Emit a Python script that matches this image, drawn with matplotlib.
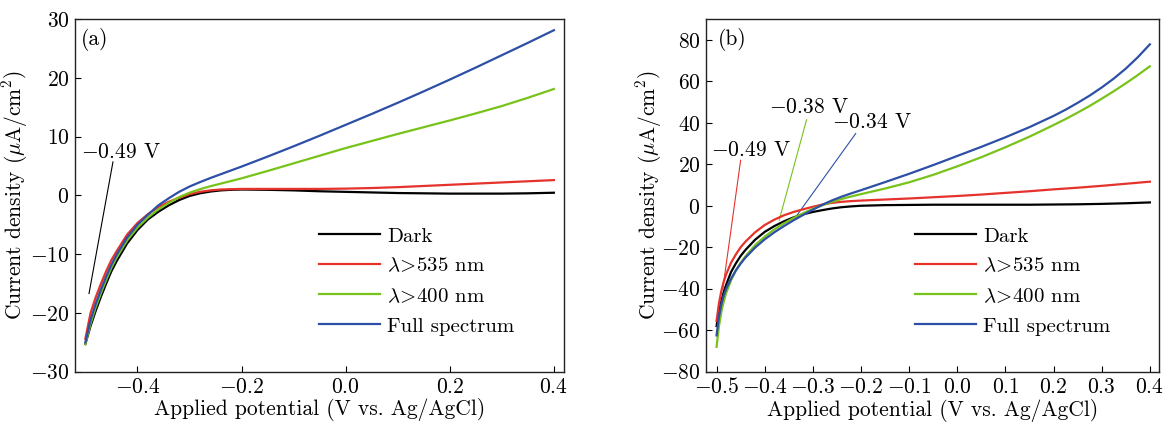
import matplotlib
matplotlib.use("Agg")
import numpy as np
import matplotlib.pyplot as plt

plt.rcParams["font.family"] = "serif"
plt.rcParams["font.serif"] = ["cmr10", "DejaVu Serif"]
plt.rcParams["mathtext.fontset"] = "cm"
plt.rcParams["axes.formatter.use_mathtext"] = True
plt.rcParams["font.size"] = 15.5

# panel (a)
xa = [-0.50, -0.49, -0.48, -0.47, -0.46, -0.45, -0.44, -0.42, -0.40, -0.38, -0.36, -0.34,
      -0.32, -0.30, -0.28, -0.26, -0.24, -0.22, -0.20, -0.15, -0.10, -0.05, 0.0, 0.05,
      0.10, 0.15, 0.20, 0.25, 0.30, 0.35, 0.40]
dark_a = [-25.3, -22.2, -19.6, -17.2, -15.0, -12.9, -11.2, -8.2, -5.9, -4.1, -2.8, -1.7,
          -0.8, -0.1, 0.35, 0.65, 0.85, 0.95, 1.0, 0.95, 0.85, 0.7, 0.6, 0.5,
          0.4, 0.35, 0.3, 0.3, 0.3, 0.35, 0.45]
red_a = [-24.4, -20.0, -17.3, -15.0, -12.9, -11.0, -9.5, -6.7, -4.7, -3.2, -2.0, -1.1,
         -0.4, 0.2, 0.6, 0.85, 1.0, 1.05, 1.1, 1.1, 1.1, 1.1, 1.15, 1.25,
         1.4, 1.6, 1.8, 2.0, 2.2, 2.4, 2.6]
green_a = [-25.3, -21.8, -19.0, -16.6, -14.4, -12.3, -10.6, -7.7, -5.5, -3.8, -2.4, -1.3,
           -0.3, 0.45, 1.05, 1.55, 2.0, 2.45, 2.9, 4.15, 5.45, 6.75, 8.05, 9.25,
           10.45, 11.6, 12.75, 13.95, 15.2, 16.6, 18.1]
blue_a = [-25.0, -21.2, -18.4, -16.0, -13.8, -11.8, -10.1, -7.2, -5.0, -3.3, -1.7, -0.5,
          0.6, 1.5, 2.25, 2.95, 3.6, 4.25, 4.9, 6.6, 8.35, 10.15, 12.0, 13.85,
          15.75, 17.7, 19.7, 21.75, 23.85, 25.95, 28.1]

# panel (b)
xb = [-0.50, -0.495, -0.49, -0.485, -0.48, -0.47, -0.46, -0.45, -0.44, -0.42, -0.40, -0.38,
      -0.36, -0.34, -0.32, -0.30, -0.28, -0.26, -0.24, -0.22, -0.20, -0.15, -0.10, -0.05,
      0.0, 0.05, 0.10, 0.15, 0.20, 0.225, 0.25, 0.275, 0.30, 0.325, 0.35, 0.375, 0.40]
dark_b = [-58, -51, -46, -41.5, -38, -32, -27.8, -24.2, -21.3, -16.4, -12.6, -9.8,
          -7.5, -5.6, -4.1, -3.0, -2.1, -1.3, -0.7, -0.3, 0.0, 0.3, 0.4, 0.5,
          0.5, 0.5, 0.5, 0.5, 0.6, 0.65, 0.7, 0.8, 0.9, 1.05, 1.2, 1.4, 1.6]
red_b = [-55.5, -47, -41, -36.5, -33, -27.5, -23.5, -20, -17.3, -12.8, -9.3, -6.7,
         -4.6, -3.0, -1.7, -0.5, 0.6, 1.4, 1.9, 2.25, 2.5, 3.0, 3.5, 4.1,
         4.7, 5.4, 6.2, 7.0, 7.9, 8.3, 8.7, 9.15, 9.6, 10.1, 10.6, 11.1, 11.6]
green_b = [-68, -58, -51, -46, -42, -36, -31.3, -27.5, -24.4, -19.0, -14.9, -11.4,
           -8.5, -5.9, -3.6, -1.5, 0.3, 1.9, 3.3, 4.5, 5.6, 8.3, 11.3, 14.9,
           19.0, 23.4, 28.2, 33.3, 38.9, 41.8, 44.9, 48.1, 51.6, 55.2, 59.0, 63.0, 67.2]
blue_b = [-62.5, -53.5, -47.5, -43.2, -40.0, -35.2, -31.2, -27.9, -25.0, -20.2, -16.2, -12.8,
          -9.8, -7.0, -4.4, -1.9, 0.5, 2.6, 4.4, 6.0, 7.5, 11.4, 15.4, 19.6,
          24.0, 28.4, 33.0, 37.9, 43.3, 46.3, 49.6, 53.1, 57.0, 61.3, 66.1, 71.6, 77.8]

labels = ["Dark", r"$\lambda\!>\!$535 nm", r"$\lambda\!>\!$400 nm", "Full spectrum"]
colors = ["#000000", "#e5322b", "#78c31a", "#2d4fa6"]

fig = plt.figure(figsize=(11.64, 4.24), dpi=100)
ax1 = fig.add_axes([0.0644, 0.1233, 0.4204, 0.8318])
ax2 = fig.add_axes([0.6065, 0.1233, 0.3892, 0.8318])


def draw(ax, x, series):
    handles = []
    for i in [3, 0, 2, 1]:
        h, = ax.plot(x, series[i], color=colors[i], lw=1.6, zorder=3 + i)
        handles.append((i, h))
    handles = [h for i, h in sorted(handles, key=lambda t: t[0])]
    return handles


h1 = draw(ax1, xa, [dark_a, red_a, green_a, blue_a])
h2 = draw(ax2, xb, [dark_b, red_b, green_b, blue_b])

ax1.set_xlim(-0.52, 0.42)
ax1.set_ylim(-30, 30)
ax1.set_xticks([-0.4, -0.2, 0.0, 0.2, 0.4])
ax1.set_yticks(np.arange(-30, 31, 10))

ax2.set_xlim(-0.522, 0.419)
ax2.set_ylim(-80, 90)
ax2.set_xticks(np.round(np.arange(-0.5, 0.41, 0.1), 1))
ax2.set_yticks(np.arange(-80, 81, 20))

for ax in (ax1, ax2):
    ax.tick_params(direction="in", length=4.5, width=0.8, pad=4)
    for s in ax.spines.values():
        s.set_linewidth(1.0)
        s.set_color("#222222")
    ax.set_xlabel("Applied potential (V vs. Ag/AgCl)", labelpad=1)
    ax.set_ylabel(r"Current density ($\mu$A/cm$^2$)")

ax1.yaxis.set_label_coords(-0.092, 0.5)
ax2.yaxis.set_label_coords(-0.093, 0.5)

ax1.legend(h1, labels, loc="upper left", bbox_to_anchor=(0.478, 0.44), frameon=False,
           borderpad=0, handlelength=2.9, handletextpad=0.35, labelspacing=0.55, fontsize=15)
ax2.legend(h2, labels, loc="upper left", bbox_to_anchor=(0.439, 0.44), frameon=False,
           borderpad=0, handlelength=2.9, handletextpad=0.35, labelspacing=0.55, fontsize=15)

ax1.text(0.012, 0.975, "(a)", transform=ax1.transAxes, va="top", ha="left")
ax2.text(0.027, 0.975, "(b)", transform=ax2.transAxes, va="top", ha="left")

# annotations
ax1.plot([-0.447, -0.493], [5.7, -16.7], color="black", lw=0.8)
ax1.text(-0.508, 6.3, r"$-$0.49 V", va="baseline", ha="left")

ax2.plot([-0.450, -0.487], [21.9, -40], color=colors[1], lw=0.8)
ax2.text(-0.512, 23.8, r"$-$0.49 V", va="baseline", ha="left")
ax2.plot([-0.313, -0.370], [41.5, -7.0], color=colors[2], lw=0.8)
ax2.text(-0.391, 44.5, r"$-$0.38 V", va="baseline", ha="left")
ax2.plot([-0.211, -0.333], [34.8, -4.6], color=colors[3], lw=0.8)
ax2.text(-0.261, 37.3, r"$-$0.34 V", va="baseline", ha="left")

fig.savefig("out.png", dpi=100)
